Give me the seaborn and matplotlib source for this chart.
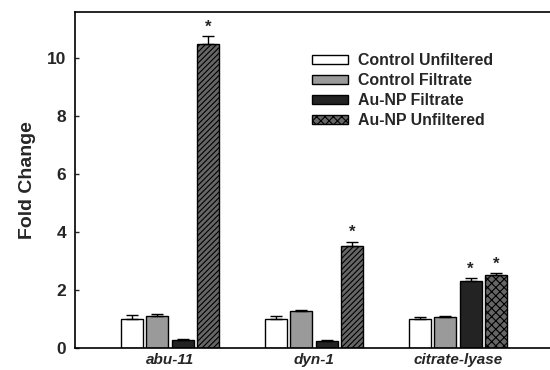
import numpy as np
import pandas as pd
import matplotlib
matplotlib.use("Agg")
import matplotlib.pyplot as plt
import seaborn as sns
from matplotlib.patches import Patch

genes = ["abu-11", "dyn-1", "citrate-lyase"]
groups = ["Control Unfiltered", "Control Filtrate", "Au-NP Filtrate", "Au-NP Unfiltered"]
control_unfiltered = [1.0, 1.0, 1.0]
control_filtrate = [1.1, 1.28, 1.07]
aunp_filtrate = [0.28, 0.25, 2.32]
aunp_unfiltered = [10.5, 3.5, 2.5]
err_control_unfiltered = [0.13, 0.1, 0.06]
err_control_filtrate = [0.05, 0.04, 0.04]
err_aunp_filtrate = [0.03, 0.03, 0.08]
err_aunp_unfiltered = [0.25, 0.17, 0.08]
significant = {"Au-NP Filtrate": [False, False, True], "Au-NP Unfiltered": [True, True, True]}

values = [control_unfiltered, control_filtrate, aunp_filtrate, aunp_unfiltered]
errors = [err_control_unfiltered, err_control_filtrate, err_aunp_filtrate, err_aunp_unfiltered]

rows = []
for g, vals, errs in zip(groups, values, errors):
    for gene, v, e in zip(genes, vals, errs):
        rows.append({"gene": gene, "group": g, "value": v, "err": e})
df = pd.DataFrame(rows)

sns.set_style("white")
plt.rcParams['font.family'] = ['Liberation Sans', 'DejaVu Sans']
plt.rcParams['hatch.linewidth'] = 0.8

colors = ["#ffffff", "#9a9a9a", "#232323", "#666666"]
fig = plt.figure(figsize=(5.5, 3.7), dpi=100)
ax = fig.add_axes([0.136, 0.06, 0.864, 0.908])

sns.barplot(data=df, x="gene", y="value", hue="group", order=genes, hue_order=groups,
            palette=colors, width=0.708, gap=0.14, edgecolor="black", linewidth=1.0,
            errorbar=None, legend=False, ax=ax)

for gi, (cont, g) in enumerate(zip(ax.containers, groups)):
    for ci, bar in enumerate(cont):
        if g == "Au-NP Unfiltered":
            bar.set_hatch("xxxx" if genes[ci] == "citrate-lyase" else "//////")
        x = bar.get_x() + bar.get_width() / 2
        h = bar.get_height()
        e = errors[gi][ci]
        ax.errorbar([x], [h], yerr=[[0], [e]], fmt="none", ecolor="black",
                    elinewidth=1.0, capsize=4, capthick=1.0)
        if g in significant and significant[g][ci]:
            ax.text(x, h + e + 0.06, "*", ha="center", va="bottom",
                    fontsize=12, fontweight="bold")

ax.set_xlim(-0.66, 2.64)
ax.set_ylim(0, 11.6)
ax.set_yticks([0, 2, 4, 6, 8, 10])
ax.set_yticklabels(["0", "2", "4", "6", "8", "10"], fontsize=12.5, fontweight="bold")
ax.set_xticks(range(len(genes)))
ax.set_xticklabels(genes, fontsize=11, fontweight="bold", fontstyle="italic")
ax.set_xlabel("")
ax.set_ylabel("Fold Change", fontsize=14, fontweight="bold", labelpad=8)
ax.tick_params(axis="y", direction="in", length=3, width=1, left=True, pad=6)
ax.tick_params(axis="x", length=0, pad=3.5)
for s in ["top", "left", "bottom"]:
    ax.spines[s].set_linewidth(1.2)
    ax.spines[s].set_color("black")
ax.spines["right"].set_visible(False)

handles = [Patch(facecolor=colors[0], edgecolor="black", linewidth=1.0),
           Patch(facecolor=colors[1], edgecolor="black", linewidth=1.0),
           Patch(facecolor=colors[2], edgecolor="black", linewidth=1.0),
           Patch(facecolor=colors[3], edgecolor="black", linewidth=1.0, hatch="xxxx")]
ax.legend(handles, groups, loc="upper left", bbox_to_anchor=(0.486, 0.895), frameon=False,
          prop={"weight": "bold", "size": 11.4}, handlelength=2.3, handleheight=0.5,
          labelspacing=0.3, handletextpad=0.6, borderaxespad=0)

fig.savefig("out.png", dpi=100)
